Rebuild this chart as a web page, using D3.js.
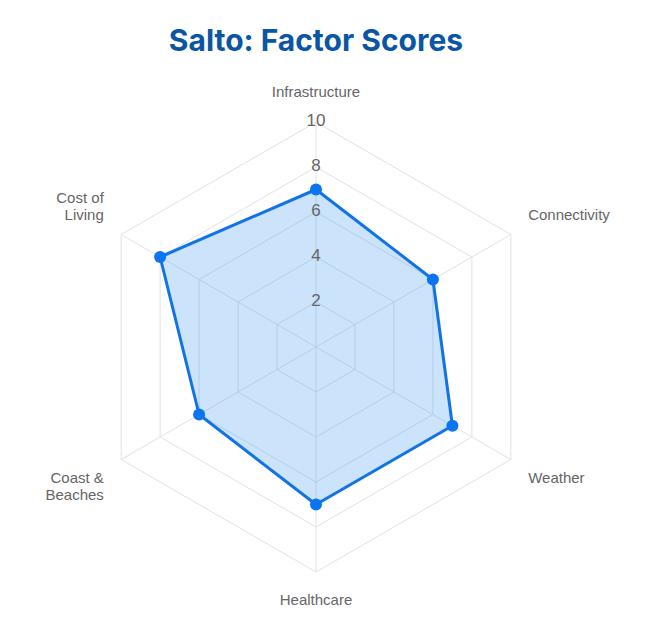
<!DOCTYPE html>
<html>
<head>
<meta charset="utf-8">
<script src="https://cdn.jsdelivr.net/npm/d3@7"></script>
<style>
  body { margin: 0; background: #fff; }
  svg { font-family: "Liberation Sans", Arial, sans-serif; }
</style>
</head>
<body>
<div id="chart"></div>
<script>
// factor names (multi-line where the chart wraps them)
var factors = [["Infrastructure"], ["Connectivity"], ["Weather"], ["Healthcare"], ["Coast &", "Beaches"], ["Cost of", "Living"]];
var scores = [7, 6, 7, 7, 6, 8];
var ticks = [2, 4, 6, 8, 10];

var width = 661,
    height = 629;
var cx = 316, cy = 347, radius = 225;

var svg = d3.select("#chart")
  .append("svg")
  .attr("width", width)
  .attr("height", height);

svg.append("text")
  .attr("x", cx)
  .attr("y", 51)
  .attr("text-anchor", "middle")
  .attr("font-family", "Inter, sans-serif")
  .attr("font-size", 30)
  .attr("font-weight", 700)
  .attr("fill", "#0b56a4")
  .text("Salto: Factor Scores");

var r = d3.scaleLinear().domain([0, 10]).range([0, radius]);
var n = factors.length;
function angle(i) { return i * 2 * Math.PI / n - Math.PI / 2; }
function pt(i, v) { return [cx + r(v) * Math.cos(angle(i)), cy + r(v) * Math.sin(angle(i))]; }

var g = svg.append("g");

// grid rings
ticks.forEach(function (t) {
  g.append("polygon")
    .attr("points", d3.range(n).map(function (i) { return pt(i, t).join(","); }).join(" "))
    .attr("fill", "none")
    .attr("stroke", "#e2e2e2")
    .attr("stroke-width", 1);
});

// spokes
d3.range(n).forEach(function (i) {
  var p = pt(i, 10);
  g.append("line")
    .attr("x1", cx).attr("y1", cy)
    .attr("x2", p[0]).attr("y2", p[1])
    .attr("stroke", "#e2e2e2")
    .attr("stroke-width", 1);
});

// data shape
var line = d3.line().curve(d3.curveLinearClosed);
g.append("path")
  .attr("d", line(scores.map(function (v, i) { return pt(i, v); })))
  .attr("fill", "rgba(54,148,240,0.26)")
  .attr("stroke", "#1273e6")
  .attr("stroke-width", 3)
  .attr("stroke-linejoin", "round");

g.selectAll("circle.pt")
  .data(scores)
  .enter()
  .append("circle")
  .attr("class", "pt")
  .attr("cx", function (d, i) { return pt(i, d)[0]; })
  .attr("cy", function (d, i) { return pt(i, d)[1]; })
  .attr("r", 6)
  .attr("fill", "#0b74f0");

// tick labels
g.selectAll("text.tick")
  .data(ticks)
  .enter()
  .append("text")
  .attr("class", "tick")
  .attr("x", cx)
  .attr("y", function (d) { return cy - r(d) - 2; })
  .attr("dy", "0.35em")
  .attr("text-anchor", "middle")
  .attr("font-size", 17)
  .attr("fill", "#666")
  .text(function (d) { return d; });

// factor labels
factors.forEach(function (lines, i) {
  var a = angle(i);
  var lx = cx + (radius + 20) * Math.cos(a);
  var ly = cy + (radius + 20) * Math.sin(a);
  var c = Math.cos(a), s = Math.sin(a);
  var anchor = Math.abs(c) < 0.01 ? "middle" : (c > 0 ? "start" : "end");
  var lh = 17;
  var y0 = s < 0 ? ly - 5 - (lines.length - 1) * lh : ly + 13;
  var t = g.append("text")
    .attr("text-anchor", anchor)
    .attr("font-size", 15)
    .attr("fill", "#666");
  lines.forEach(function (l, k) {
    t.append("tspan")
      .attr("x", lx)
      .attr("y", y0 + k * lh)
      .text(l);
  });
});
</script>
</body>
</html>
